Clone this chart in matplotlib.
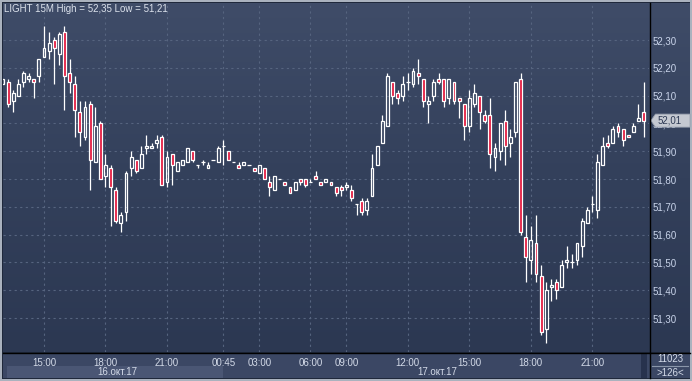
import matplotlib
matplotlib.use('Agg')
import matplotlib.pyplot as plt
import numpy as np
from matplotlib.patches import Rectangle, Polygon
from matplotlib.lines import Line2D
from matplotlib.colors import LinearSegmentedColormap

# 15M candles, left to right
opens = [52.14, 52.15, 52.08, 52.10, 52.15, 52.16, 52.16, 52.17, 52.24, 52.26,
         52.30, 52.25, 52.33, 52.18, 52.14, 52.04, 51.95, 52.07, 51.86, 52.00,
         51.81, 51.84, 51.76, 51.64, 51.68, 51.84, 51.87, 51.84, 51.91, 51.91,
         51.93, 51.95, 51.79, 51.89, 51.83, 51.85, 51.86, 51.90, 51.85, 51.86,
         51.84, 51.87, 51.86, 51.92, 51.90, 51.86, 51.85, 51.85, 51.85, 51.84,
         51.82, 51.84, 51.79, 51.76, 51.80, 51.79, 51.77, 51.76, 51.80, 51.80,
         51.79, 51.81, 51.79, 51.79, 51.79, 51.77, 51.77, 51.77, 51.76, 51.71,
         51.72, 51.69, 51.74, 51.85, 51.93, 51.99, 52.15, 52.11, 52.10, 52.15,
         52.14, 52.18, 52.16, 52.07, 52.10, 52.16, 52.16, 52.09, 52.15, 52.09,
         52.07, 51.99, 52.07, 52.10, 52.03, 52.03, 51.88, 51.90, 52.01, 51.93,
         51.97, 52.16, 51.59, 51.51, 51.57, 51.45, 51.26, 51.41, 51.43, 51.41,
         51.50, 51.50, 51.51, 51.56, 51.64, 51.71, 51.69, 51.85, 51.93, 51.93,
         51.99, 51.98, 51.96, 51.97, 52.01, 52.04]
highs = [52.16, 52.16, 52.12, 52.16, 52.19, 52.18, 52.16, 52.23, 52.35, 52.33,
         52.31, 52.33, 52.35, 52.23, 52.17, 52.08, 52.08, 52.08, 52.06, 52.01,
         51.89, 51.85, 51.77, 51.68, 51.83, 51.90, 51.87, 51.92, 51.96, 51.93,
         51.96, 51.96, 51.90, 51.89, 51.86, 51.87, 51.91, 51.90, 51.85, 51.87,
         51.86, 51.87, 51.92, 51.94, 51.90, 51.86, 51.86, 51.86, 51.85, 51.84,
         51.85, 51.84, 51.81, 51.81, 51.80, 51.79, 51.77, 51.79, 51.80, 51.80,
         51.80, 51.83, 51.79, 51.80, 51.79, 51.77, 51.78, 51.79, 51.78, 51.71,
         51.73, 51.73, 51.89, 51.92, 52.03, 52.18, 52.15, 52.12, 52.17, 52.18,
         52.20, 52.23, 52.16, 52.10, 52.16, 52.18, 52.16, 52.16, 52.15, 52.09,
         52.07, 52.12, 52.14, 52.10, 52.05, 52.09, 51.93, 52.00, 52.05, 51.98,
         52.15, 52.18, 51.67, 51.63, 51.67, 51.49, 51.43, 51.44, 51.44, 51.51,
         51.56, 51.53, 51.57, 51.66, 51.70, 51.74, 51.89, 51.95, 51.96, 51.99,
         52.00, 51.98, 51.96, 52.00, 52.07, 52.15]
lows = [52.14, 52.06, 52.04, 52.10, 52.13, 52.15, 52.09, 52.15, 52.24, 52.23,
        52.14, 52.21, 52.05, 52.11, 51.95, 51.92, 51.94, 51.76, 51.86, 51.80,
        51.77, 51.63, 51.64, 51.61, 51.65, 51.81, 51.82, 51.84, 51.89, 51.91,
        51.91, 51.78, 51.77, 51.78, 51.83, 51.85, 51.86, 51.86, 51.84, 51.85,
        51.84, 51.87, 51.86, 51.85, 51.87, 51.86, 51.84, 51.85, 51.85, 51.83,
        51.82, 51.80, 51.74, 51.76, 51.80, 51.78, 51.75, 51.76, 51.78, 51.77,
        51.79, 51.80, 51.78, 51.79, 51.78, 51.74, 51.74, 51.76, 51.72, 51.67,
        51.67, 51.67, 51.74, 51.85, 51.93, 51.99, 52.07, 52.07, 52.08, 52.12,
        52.13, 52.14, 52.06, 52.00, 52.08, 52.14, 52.06, 52.07, 52.07, 52.02,
        51.94, 51.97, 52.06, 51.98, 52.00, 51.84, 51.83, 51.87, 51.85, 51.88,
        51.95, 51.60, 51.43, 51.46, 51.43, 51.24, 51.21, 51.36, 51.37, 51.41,
        51.48, 51.48, 51.49, 51.52, 51.64, 51.68, 51.66, 51.85, 51.91, 51.93,
        51.95, 51.92, 51.95, 51.97, 52.01, 51.95]
closes = [52.16, 52.07, 52.11, 52.14, 52.18, 52.17, 52.15, 52.23, 52.27, 52.29,
          52.27, 52.32, 52.17, 52.15, 52.05, 51.97, 52.06, 51.87, 51.99, 51.80,
          51.85, 51.77, 51.65, 51.67, 51.82, 51.88, 51.83, 51.89, 51.92, 51.92,
          51.94, 51.78, 51.88, 51.85, 51.86, 51.87, 51.91, 51.87, 51.85, 51.86,
          51.85, 51.87, 51.91, 51.92, 51.87, 51.86, 51.84, 51.86, 51.85, 51.83,
          51.85, 51.80, 51.77, 51.81, 51.80, 51.78, 51.75, 51.79, 51.79, 51.78,
          51.79, 51.80, 51.78, 51.80, 51.78, 51.75, 51.76, 51.78, 51.73, 51.71,
          51.68, 51.72, 51.84, 51.92, 52.01, 52.17, 52.10, 52.09, 52.14, 52.15,
          52.19, 52.17, 52.08, 52.08, 52.15, 52.15, 52.08, 52.16, 52.08, 52.08,
          51.99, 52.09, 52.11, 52.04, 52.01, 51.89, 51.91, 52.00, 51.92, 51.95,
          52.15, 51.61, 51.52, 51.58, 51.46, 51.25, 51.40, 51.42, 51.40, 51.49,
          51.51, 51.50, 51.57, 51.65, 51.69, 51.71, 51.86, 51.92, 51.92, 51.98,
          51.97, 51.94, 51.95, 51.99, 52.02, 52.01]

time_pos = [8, 20, 32, 43, 50, 60, 67, 79, 91, 103, 115]
time_labels = ['15:00', '18:00', '21:00', '00:45', '03:00', '06:00', '09:00',
               '12:00', '15:00', '18:00', '21:00']
price_ticks = [51.30, 51.40, 51.50, 51.60, 51.70, 51.80, 51.90, 52.00, 52.10, 52.20, 52.30]
dates = ['16.окт.17', '17.окт.17']
title = 'LIGHT 15M High = 52,35 Low = 51,21'
last_price = 52.01

plt.rcParams['font.family'] = ['Liberation Sans', 'DejaVu Sans']

W, H = 692, 381
def fx(px):
    return px / W
def fy(py):
    return 1 - py / H
def rect(x0, y0, x1, y1, color):
    fig.add_artist(Rectangle((fx(x0), fy(y1)), fx(x1) - fx(x0), fy(y0) - fy(y1),
                             transform=fig.transFigure, facecolor=color,
                             edgecolor='none', zorder=0))

fig = plt.figure(figsize=(W / 100, H / 100), dpi=100)
fig.patch.set_facecolor('#aab2be')

# frame and bottom bar
rect(2, 2, 690, 379, '#1f283b')
rect(3, 353, 690, 378, '#3b4764')
rect(7, 366, 223, 378, '#4a5674')
rect(641, 353, 647, 378, '#27324d')

# gradient background behind plot + price scale
bg = fig.add_axes([fx(3), fy(352), fx(690) - fx(3), fy(3) - fy(352)])
cmap = LinearSegmentedColormap.from_list('bg', ['#2c3852', '#33405b', '#3f4c68'])
bg.imshow(np.linspace(1, 0, 256).reshape(-1, 1), aspect='auto', cmap=cmap,
          extent=[0, 1, 0, 1])
bg.axis('off')

ax = fig.add_axes([fx(3), fy(352), fx(649) - fx(3), fy(3) - fy(352)])
ax.patch.set_alpha(0)
for s in ax.spines.values():
    s.set_visible(False)

red = '#e3163c'
lw = 0.9
for i in range(len(opens)):
    o, h, l, c = opens[i], highs[i], lows[i], closes[i]
    top, bot = max(o, c), min(o, c)
    if o == c:
        ax.vlines(i, l, h, color='white', lw=lw, zorder=3)
        ax.hlines(o, i - 0.32, i + 0.32, color='white', lw=lw, zorder=3)
        continue
    if h > top:
        ax.vlines(i, top, h, color='white', lw=lw, zorder=3)
    if l < bot:
        ax.vlines(i, l, bot, color='white', lw=lw, zorder=3)
    ax.bar(i, top - bot, bottom=bot, width=0.58,
           facecolor=red if c < o else 'none', edgecolor='white', lw=lw, zorder=4)

ax.set_xlim(0, 126.05)
ax.set_ylim(51.1777, 52.4331)
ax.set_xticks(time_pos)
ax.set_xticklabels(time_labels)
ax.set_yticks(price_ticks)
ax.set_yticklabels([f'{p:.2f}'.replace('.', ',') for p in price_ticks])
ax.yaxis.tick_right()
ax.tick_params(axis='x', length=0, pad=4, labelsize=7, labelcolor='#d3dae8')
ax.tick_params(axis='y', length=0, pad=2.5, labelsize=7, labelcolor='#c9d4ea')
ax.grid(True, color='#56647f', linestyle=(0, (2, 3)), linewidth=0.8)
ax.set_axisbelow(True)

# current price marker
tri = 6.5 / 278
box = Polygon([(1.003, last_price), (1.010, last_price + tri), (1.0635, last_price + tri),
               (1.0635, last_price - tri), (1.010, last_price - tri)],
              closed=True, transform=ax.get_yaxis_transform(), clip_on=False,
              facecolor='#c5c9d1', edgecolor='#9aa2b0', lw=0.6, zorder=10)
ax.add_patch(box)
ax.text(1.013, last_price, f'{last_price:.2f}'.replace('.', ','),
        transform=ax.get_yaxis_transform(), va='center', ha='left',
        fontsize=7, color='#2f3b55', zorder=11, clip_on=False)

# separator lines
fig.add_artist(Line2D([fx(3), fx(690)], [fy(352.5), fy(352.5)], color='black', lw=1))
fig.add_artist(Line2D([fx(649.5), fx(649.5)], [fy(3), fy(378)], color='black', lw=1))
fig.add_artist(Line2D([fx(652), fx(688)], [fy(366), fy(366)], color='#8a96aa', lw=0.8))

fig.text(fx(4), fy(9), title, va='center', ha='left', fontsize=7, color='#dce2ec')
fig.text(fx(117), fy(372), dates[0], va='center', ha='center', fontsize=7, color='#d3dae8')
fig.text(fx(437), fy(372), dates[1], va='center', ha='center', fontsize=7, color='#d3dae8')
fig.text(fx(670), fy(359.5), '11023', va='center', ha='center', fontsize=7, color='#d3dae8')
fig.text(fx(670), fy(373), '>126<', va='center', ha='center', fontsize=7, color='#d3dae8')

fig.savefig('out.png', dpi=100, facecolor=fig.get_facecolor())
